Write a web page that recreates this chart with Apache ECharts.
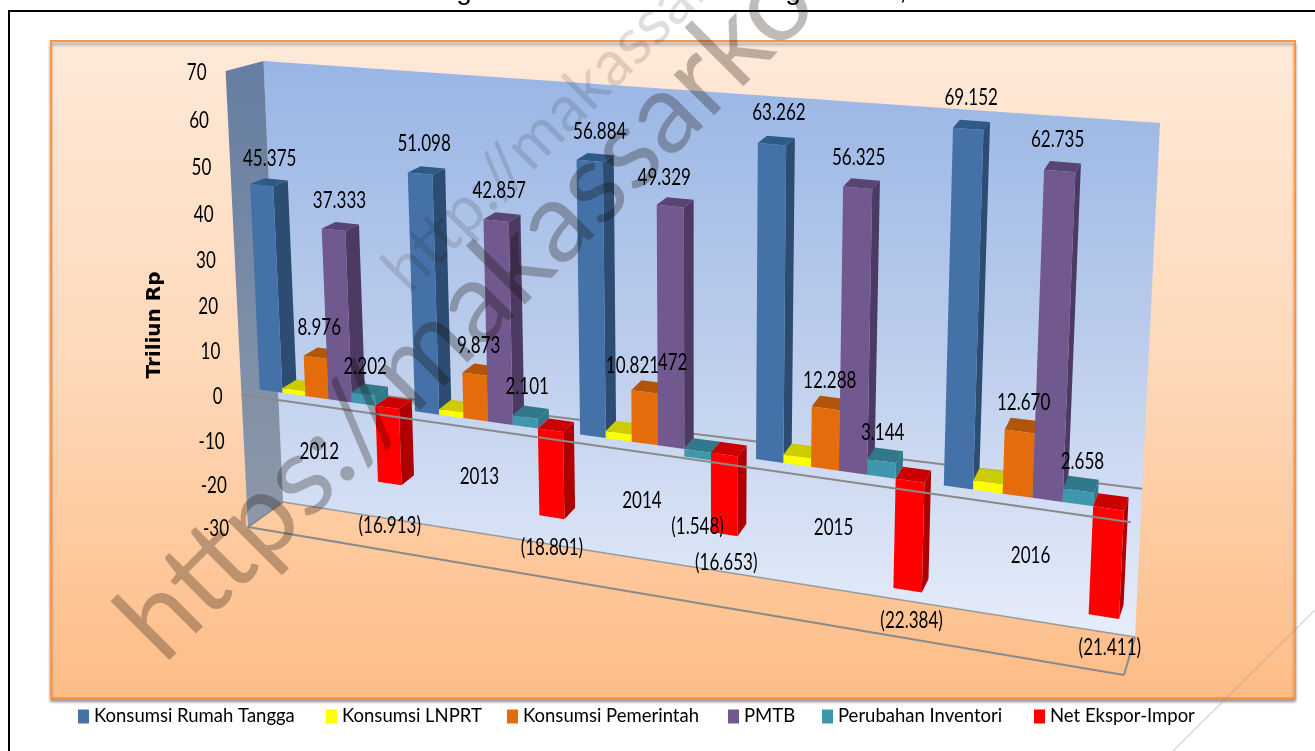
<!DOCTYPE html>
<html><head><meta charset="utf-8">
<style>html,body{margin:0;padding:0;background:#fff}#c{width:1315px;height:751px}</style>
<script src="https://cdn.jsdelivr.net/npm/echarts@6/dist/echarts.min.js"></script>
</head><body><div id="c"></div>
<script>
// ---- data ----
var categories = ['2012','2013','2014','2015','2016'];
var tickLabels = [70,60,50,40,30,20,10,0,-10,-20,-30];
var rumahTangga = [45.375,51.098,56.884,63.262,69.152];
var lnprt       = [1.0,1.2,1.472,1.7,1.8];
var pemerintah  = [8.976,9.873,10.821,12.288,12.670];
var pmtb        = [37.333,42.857,49.329,56.325,62.735];
var inventori   = [2.202,2.101,-1.548,3.144,2.658];
var netEkspor   = [-16.913,-18.801,-16.653,-22.384,-21.411];
var seriesNames = ['Konsumsi Rumah Tangga','Konsumsi LNPRT','Konsumsi Pemerintah','PMTB','Perubahan Inventori','Net Ekspor-Impor'];
var seriesValues = [rumahTangga,lnprt,pemerintah,pmtb,inventori,netEkspor];

// ---- styles / layout ----
var faceColors = [
 {front:'#4472A8',side:'#2C4C72',top:'#2F5A87'},
 {front:'#FFFF00',side:'#CCCC00',top:'#CCCC00'},
 {front:'#E46C0A',side:'#B35508',top:'#B35508'},
 {front:'#71588F',side:'#4C3A63',top:'#5A4474'},
 {front:'#3F97AE',side:'#31788A',top:'#31788A'},
 {front:'#FF0000',side:'#AE0000',top:'#CC0000'}
];
var legendLeft = [78,326,507,728,822,1034];
var BACK  = [[263.5,61],[1160,123],[1135,637],[283,502]];
var FRONT = [[225.6,71],[1148,145],[1124,675],[248,527]];
var DEPTH_FRONT = 0.7, DEPTH_BACK = 0.3, GAP = 0.05;
var FONT = '23px Lato', SQUEEZE = 0.74;
// hand-placed label offsets of the original: [dx,dy] per category, per series
var labelNudge = [
 [[8,0],[4,-3],[10,-2],[7,-5],[3,-4]],
 [[0,0],[0,0],[54,-43],[0,0],[0,0]],
 [[4,-3],[4,-2],[-12,1],[4,-1],[4,-2]],
 [[6,-2],[3,-3],[-6,-2],[1,-3],[-2,-4]],
 [[2,-1],[2,-3],[0,40],[1,-2],[4,-2]],
 [[0,14],[0,2],[2,1],[4,2],[6,3]]
];
var catNudge = [[-1,1],[-1,1],[-9,-1],[1,-1],[4,-3]];

function homography(q){
  var x0=q[0][0],y0=q[0][1],x1=q[1][0],y1=q[1][1],x2=q[2][0],y2=q[2][1],x3=q[3][0],y3=q[3][1];
  var dx1=x1-x2,dx2=x3-x2,sx=x0-x1+x2-x3,dy1=y1-y2,dy2=y3-y2,sy=y0-y1+y2-y3;
  var den=dx1*dy2-dx2*dy1;
  var g=(sx*dy2-dx2*sy)/den,h=(dx1*sy-sx*dy1)/den;
  var a=x1-x0+g*x1,b=x3-x0+h*x3,c=x0,d=y1-y0+g*y1,e=y3-y0+h*y3,f=y0;
  return function(s,t){var w=g*s+h*t+1;return [(a*s+b*t+c)/w,(d*s+e*t+f)/w];};
}
var hBack=homography(BACK),hFront=homography(FRONT);
function makeProjector(api){
  var a=api.coord([0,70]),b=api.coord([5,-30]);
  return function(u,v,d){
    var p=api.coord([u,v]);
    var s=(p[0]-a[0])/(b[0]-a[0]),t=(p[1]-a[1])/(b[1]-a[1]);
    var B=hBack(s,t),F=hFront(s,t);
    return [B[0]+(F[0]-B[0])*d,B[1]+(F[1]-B[1])*d];
  };
}
function poly(points,fill){
  return {type:'polygon',shape:{points:points},style:{fill:fill,stroke:null}};
}
function line(a,b,w,c){
  return {type:'line',shape:{x1:a[0],y1:a[1],x2:b[0],y2:b[1]},style:{stroke:c||'#8a8a8a',lineWidth:w||2}};
}
function txt(text,x,y,align){
  return {type:'text',x:x,y:y,scaleX:SQUEEZE,style:{text:text,font:FONT,fill:'#000',align:align||'center',verticalAlign:'middle'}};
}
function barRenderer(si){
  return function(params,api){
    var P=makeProjector(api),i=api.value(0),v=api.value(1);
    var w=(1-2*GAP)/6,u0=i+GAP+si*w,u1=u0+w;
    var hi=Math.max(v,0),lo=Math.min(v,0),df=DEPTH_FRONT,db=DEPTH_BACK,c=faceColors[si];
    return {type:'group',children:[
      poly([P(u1,lo,df),P(u1,lo,db),P(u1,hi,db),P(u1,hi,df)],c.side),
      poly([P(u0,hi,df),P(u1,hi,df),P(u1,hi,db),P(u0,hi,db)],c.top),
      poly([P(u0,lo,df),P(u1,lo,df),P(u1,hi,df),P(u0,hi,df)],c.front)
    ]};
  };
}
var LG=echarts.graphic.LinearGradient;
var wallSeries={type:'custom',z:3,silent:true,data:[[0,0]],clip:false,renderItem:function(p,api){
  var P=makeProjector(api);
  return {type:'group',children:[
    poly([P(0,70,0),P(5,70,0),P(5,-30,0),P(0,-30,0)],new LG(0,0,0,1,[{offset:0,color:'#98B5E5'},{offset:.5,color:'#BCCDEC'},{offset:1,color:'#E6EDFA'}])),
    poly([P(0,70,1),P(0,70,0),P(0,-30,0),P(0,-30,1)],new LG(0,0,0,1,[{offset:0,color:'#667EA2'},{offset:1,color:'#8D98A8'}])),
    line(P(0,0,0.35),P(5,0,0)),
    line(P(0,-30,0),P(0,-30,1)),
    line(P(5,-30,0),P(5,-30,1)),
    line(P(0,-30,1),P(5,-30,1)),
    line(P(0,-30,0),P(5,-30,0),1.5,'#9a9a9a')
  ]};
}};
var frontLineSeries={type:'custom',z:20,silent:true,data:[[0,0]],clip:false,renderItem:function(p,api){
  var P=makeProjector(api);
  return line(P(0,0,1),P(5,0,1));
}};
var barSeries=seriesNames.map(function(n,si){
  return {type:'custom',name:n,z:4+si,clip:false,silent:true,itemStyle:{color:faceColors[si].front},
    data:seriesValues[si].map(function(v,i){return [i,v];}),renderItem:barRenderer(si)};
});
function labelText(si,i,v){
  if(si===1) return i===2 ? '472' : '';
  var s=Math.abs(v).toFixed(3);
  return v<0?'('+s+')':s;
}
var labelData=[];
seriesValues.forEach(function(a,si){a.forEach(function(v,i){labelData.push([i,v,si]);});});
var labelSeries={type:'custom',z:30,silent:true,clip:false,data:labelData,renderItem:function(p,api){
  var P=makeProjector(api),i=api.value(0),v=api.value(1),si=api.value(2);
  var w=(1-2*GAP)/6,u=i+GAP+(si+.5)*w;
  var q=P(u,v,DEPTH_FRONT),n=labelNudge[si][i];
  return txt(labelText(si,i,v),q[0]+n[0],q[1]+(v<0?28:-27)+n[1]);
}};
var catLabelSeries={type:'custom',z:31,silent:true,clip:false,data:categories.map(function(c,i){return [i];}),renderItem:function(p,api){
  var P=makeProjector(api),i=api.value(0),q=P(i+.5,-10,1);
  return txt(categories[i],q[0]+catNudge[i][0],q[1]+catNudge[i][1]);
}};
var tickSeries={type:'custom',z:31,silent:true,clip:false,data:tickLabels.map(function(t){return [0,t];}),renderItem:function(p,api){
  var P=makeProjector(api),v=api.value(1),q=P(0,v,1);
  return txt(String(v),q[0]-19,q[1]+2,'right');
}};
var wm='https://makassarkota.bps.go.id';
var chart=echarts.init(document.getElementById('c'),null,{renderer:'canvas'});
chart.setOption({
  animation:false,
  backgroundColor:'#fff',
  grid:{left:60,right:60,top:60,bottom:60},
  xAxis:{type:'value',min:0,max:5,interval:1,show:false},
  yAxis:{type:'value',min:-30,max:70,interval:10,show:false},
  legend:seriesNames.map(function(n,k){
    return {data:[n],left:legendLeft[k],top:707,padding:0,itemWidth:11,itemHeight:14,icon:'rect',selectedMode:false,
      textStyle:{fontFamily:'Lato',fontSize:18.5,color:'#000'}};
  }),
  graphic:{elements:[
    {type:'rect',z:-5,silent:true,shape:{x:51,y:41,width:1244,height:657},
      style:{fill:new LG(0,0,0,1,[{offset:0,color:'#FEE9D9'},{offset:.5,color:'#FED8B8'},{offset:1,color:'#FDBC86'}]),stroke:'#F79646',lineWidth:2,shadowBlur:3,shadowOffsetY:3,shadowColor:'rgba(0,0,0,.35)'}},
    {type:'line',z:-4,silent:true,shape:{x1:8,y1:11,x2:1315,y2:11},style:{stroke:'#000',lineWidth:2}},
    {type:'line',z:-4,silent:true,shape:{x1:9,y1:11,x2:9,y2:751},style:{stroke:'#000',lineWidth:2}},
    {type:'text',z:-4,silent:true,x:464,y:5,style:{text:'g',font:'28px "Liberation Sans"',fill:'#000',align:'center',verticalAlign:'bottom'}},
    {type:'text',z:-4,silent:true,x:793,y:5,style:{text:'g',font:'28px "Liberation Sans"',fill:'#000',align:'center',verticalAlign:'bottom'}},
    {type:'text',z:-4,silent:true,x:903,y:5,style:{text:',',font:'28px "Liberation Sans"',fill:'#000',align:'center',verticalAlign:'bottom'}},
    {type:'text',z:50,silent:true,x:155,y:325,rotation:Math.PI/2,style:{text:'Triliun Rp',font:'bold 20px "DejaVu Sans"',fill:'#000',align:'center',verticalAlign:'middle'}},
    {type:'line',z:60,silent:true,shape:{x1:1315,y1:610,x2:1173,y2:751},style:{stroke:'rgba(150,150,150,.35)',lineWidth:1.5}},
    {type:'text',z:100,silent:true,x:178,y:680,rotation:Math.PI/4,style:{text:wm,font:'113px Lato',fill:'rgba(20,10,0,.28)',align:'left',verticalAlign:'bottom'}},
    {type:'text',z:100,silent:true,x:417,y:303,rotation:Math.PI/4,style:{text:'http://makassarkota.bps.go.id',font:'64px Lato',fill:'rgba(20,10,0,.13)',align:'left',verticalAlign:'bottom'}}
  ]},
  series:[wallSeries].concat(barSeries,[frontLineSeries,labelSeries,catLabelSeries,tickSeries])
});
</script></body></html>
